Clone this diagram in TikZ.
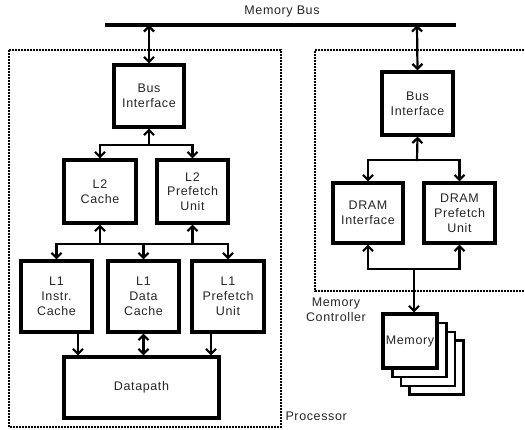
\documentclass[tikz,border=0pt]{standalone}
\usepackage{fontspec}
\setmainfont{Liberation Sans}[LetterSpace=5]
\usetikzlibrary{arrows.meta}
\begin{document}
\begin{tikzpicture}[x=1pt,y=-1pt,
  every node/.style={font=\fontsize{12.5}{14.8}\selectfont, text=black!85},
  blk/.style={draw=black, line width=3.2pt, fill=white, inner sep=0pt, align=center},
  stackbox/.style={draw=black, line width=2.2pt, fill=white, inner sep=0pt,
                   minimum width=54pt, minimum height=54pt},
  wire/.style={line width=2.2pt, line cap=rect},
  tip/.style={-{Straight Barb[length=5pt,width=10pt]}},
  bitip/.style={{Straight Barb[length=5pt,width=10pt]}-{Straight Barb[length=5pt,width=10pt]}},
  region/.style={line width=1.6pt, dash pattern=on 1.6pt off 1.4pt}
]
\useasboundingbox (0,0) rectangle (525,430);

% system bus
\coordinate (busL) at (105,25);
\coordinate (busR) at (456,25);
\draw[line width=4.5pt] (busL) -- (busR);
\node (buslabel) at (282,12) {Memory Bus};

% enclosing regions
\draw[region] (9,50) rectangle (281,427);
\draw[region] (524,50) -- (315,50) -- (315,291) -- (524,291);
\node[anchor=west] (proclabel) at (282,416) {Processor};
\node[align=center] (mclabel) at (336,310) {Memory\\Controller};

% processor blocks
\node[blk, minimum width=70pt, minimum height=62pt] (pbi) at (149,96) {Bus\\Interface};
\node[blk, minimum width=72pt, minimum height=63pt] (l2c) at (100,191.5) {L2\\Cache};
\node[blk, minimum width=71pt, minimum height=63pt] (l2p) at (192.5,191.5) {L2\\Prefetch\\Unit};
\node[blk, minimum width=71pt, minimum height=71pt] (l1i) at (56.5,296.5) {L1\\Instr.\\Cache};
\node[blk, minimum width=71pt, minimum height=71pt] (l1d) at (143.5,296.5) {L1\\Data\\Cache};
\node[blk, minimum width=72pt, minimum height=71pt] (l1p) at (228,296.5) {L1\\Prefetch\\Unit};
\node[blk, minimum width=155pt, minimum height=61pt] (dp) at (141.5,387.5) {Datapath};

% memory controller blocks
\node[blk, minimum width=71pt, minimum height=63pt] (mbi) at (417.5,103.5) {Bus\\Interface};
\node[blk, minimum width=70pt, minimum height=60pt] (dri) at (368,213) {DRAM\\Interface};
\node[blk, minimum width=71pt, minimum height=60pt] (drp) at (459.5,213) {DRAM\\Prefetch\\Unit};

% memory banks
\node[stackbox] (mem3) at (436.5,367.5) {};
\node[stackbox] (mem2) at (428,359) {};
\node[stackbox] (mem1) at (419.5,350) {};
\node[blk, minimum width=54pt, minimum height=54pt, inner sep=0pt] (mem) at (410,341) {Memory};

% processor connections
\coordinate (busP) at (149,25);
\draw[wire, bitip] (busP) -- (pbi.north);
\coordinate (j1) at (149,145);
\draw[wire, tip] (j1) -- (pbi.south);
\draw[wire, tip] (j1) -| (l2c.north);
\draw[wire, tip] (j1) -| (l2p.north);

\coordinate (j2) at (143.5,244);
\draw[wire] (l1i.north |- j2) -- (l1p.north |- j2);
\draw[wire, tip] (l2c.south |- j2) -- (l2c.south);
\draw[wire, tip] (l2p.south |- j2) -- (l2p.south);
\draw[wire, tip] (j2) -| (l1i.north);
\draw[wire, tip] (j2) -- (l1d.north);
\draw[wire, tip] (j2) -| (l1p.north);

\draw[wire, tip] ([xshift=21.5pt]l1i.south) -- ([xshift=21.5pt]l1i.south |- dp.north);
\draw[wire, bitip] (l1d.south) -- (l1d.south |- dp.north);
\draw[wire, tip] ([xshift=-17pt]l1p.south) -- ([xshift=-17pt]l1p.south |- dp.north);

% memory controller connections
\coordinate (busM) at (417,25);
\draw[wire, bitip] (busM) -- (mbi.north);
\coordinate (j3) at (417,160);
\draw[wire, tip] (j3) -- (mbi.south);
\draw[wire, tip] (j3) -| (dri.north);
\draw[wire, tip] (j3) -| (drp.north);

\coordinate (j4) at (414,269);
\draw[wire, tip] (j4) -| (dri.south);
\draw[wire, tip] (j4) -| (drp.south);
\draw[wire, tip] (j4) -- (j4 |- mem.north);
\end{tikzpicture}
\end{document}
